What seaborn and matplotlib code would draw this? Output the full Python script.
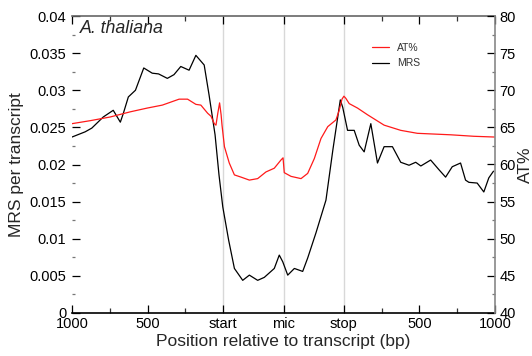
import matplotlib
matplotlib.use("Agg")
import matplotlib.pyplot as plt
import seaborn as sns
import pandas as pd

sns.set_theme(style="ticks")
plt.rcParams['font.family'] = ['Liberation Sans', 'DejaVu Sans']

# Metagene coordinate: 0-1000 = 1 kb upstream, 1000-1800 = scaled transcript body
# (start -> mic -> stop), 1800-2800 = 1 kb downstream
mrs_pos = [0, 87, 131, 207, 273, 320, 340, 373, 420, 475, 531, 573, 631, 675, 720,
           775, 820, 875, 907, 947, 973, 998, 1037, 1075, 1130, 1174, 1229, 1273,
           1339, 1372, 1395, 1428, 1472, 1527, 1560, 1615, 1681, 1727, 1776, 1792,
           1824, 1868, 1901, 1934, 1978, 2022, 2066, 2121, 2176, 2231, 2275, 2309,
           2374, 2429, 2473, 2517, 2572, 2605, 2627, 2682, 2726, 2759, 2790]
mrs_val = [0.0237, 0.0244, 0.0249, 0.0264, 0.0273, 0.0257, 0.0269, 0.0291, 0.0300,
           0.0330, 0.0323, 0.0322, 0.0316, 0.0321, 0.0332, 0.0327, 0.0347, 0.0334,
           0.0294, 0.0240, 0.0186, 0.0143, 0.0098, 0.0060, 0.0044, 0.0051, 0.0044,
           0.0048, 0.0060, 0.0078, 0.0069, 0.0051, 0.0060, 0.0056, 0.0074, 0.0108,
           0.0152, 0.0220, 0.0287, 0.0277, 0.0246, 0.0246, 0.0226, 0.0217, 0.0255,
           0.0202, 0.0224, 0.0224, 0.0203, 0.0199, 0.0203, 0.0198, 0.0206, 0.0193,
           0.0183, 0.0197, 0.0202, 0.0179, 0.0176, 0.0175, 0.0163, 0.0182, 0.0191]

at_pos = [0, 120, 253, 387, 498, 598, 709, 765, 820, 853, 898, 920, 942, 953, 965,
          977, 987, 993, 1009, 1041, 1075, 1119, 1174, 1229, 1284, 1339, 1383, 1397,
          1405, 1450, 1516, 1560, 1604, 1648, 1693, 1747, 1769, 1787, 1800, 1813,
          1835, 1890, 1956, 2066, 2176, 2286, 2507, 2660, 2796]
at_val = [65.5, 65.9, 66.4, 67.1, 67.6, 68.0, 68.8, 68.8, 68.1, 68.0, 66.9, 66.5,
          65.5, 65.3, 66.9, 68.3, 66.7, 65.3, 62.4, 60.2, 58.6, 58.3, 57.9, 58.1,
          59.0, 59.5, 60.6, 60.9, 58.9, 58.4, 58.1, 58.8, 60.8, 63.5, 65.1, 66.0,
          67.3, 68.8, 69.2, 68.9, 68.2, 67.6, 66.7, 65.3, 64.6, 64.2, 64.0, 63.8, 63.7]

x_ticks = [0, 500, 1000, 1400, 1800, 2300, 2800]
x_labels = ["1000", "500", "start", "mic", "stop", "500", "1000"]
x_minor = [250, 750, 2050, 2550]
landmarks = [1000, 1400, 1800]

left_ticks = [0, 0.005, 0.01, 0.015, 0.02, 0.025, 0.03, 0.035, 0.04]
left_labels = ["0", "0.005", "0.01", "0.015", "0.02", "0.025", "0.03", "0.035", "0.04"]
right_ticks = [40, 45, 50, 55, 60, 65, 70, 75, 80]
right_labels = ["40", "45", "50", "55", "60", "65", "70", "75", "80"]

mrs = pd.DataFrame({"pos": mrs_pos, "MRS": mrs_val})
at = pd.DataFrame({"pos": at_pos, "AT": at_val})

fig = plt.figure(figsize=(5.32, 3.56), dpi=100)
ax = fig.add_axes([72 / 532, 1 - 313 / 356, 423 / 532, 297 / 356])
ax2 = ax.twinx()

for x in landmarks:
    ax.axvline(x, color="#d8d8d8", lw=1.0, zorder=0)

sns.lineplot(data=mrs, x="pos", y="MRS", ax=ax, color="black", lw=0.9, legend=False)
sns.lineplot(data=at, x="pos", y="AT", ax=ax2, color="#ff1a1a", lw=0.9, legend=False)

ax.set_xlim(0, 2800)
ax.set_ylim(0, 0.04)
ax2.set_ylim(40, 80)

tick_fs = 10.5
ax.set_xticks(x_ticks)
ax.set_xticklabels(x_labels, fontsize=tick_fs)
ax.set_xticks(x_minor, minor=True)
ax.set_yticks(left_ticks)
ax.set_yticklabels(left_labels, fontsize=tick_fs)
ax.set_yticks([v + 0.0025 for v in left_ticks[:-1]], minor=True)
ax2.set_yticks(right_ticks)
ax2.set_yticklabels(right_labels, fontsize=tick_fs)
ax2.set_yticks([v + 2.5 for v in right_ticks[:-1]], minor=True)

ax.xaxis.set_ticks_position("both")
ax.tick_params(axis="x", which="major", direction="in", length=6, width=0.9,
               pad=3, colors="black", top=True, bottom=True)
ax.tick_params(axis="x", which="minor", direction="in", length=3.5, width=0.9,
               top=True, bottom=True, colors="#333333")
ax.tick_params(axis="y", which="major", direction="in", length=5.5, width=0.9,
               pad=4, colors="black", left=True, right=False)
ax.tick_params(axis="y", which="minor", direction="in", length=2.5, width=0.9,
               left=True, right=False, colors="#777777")
ax2.tick_params(axis="y", which="major", direction="in", length=5.5, width=0.9,
                pad=3, colors="black", right=True, left=False)
ax2.tick_params(axis="y", which="minor", direction="in", length=2.5, width=0.9,
                right=True, left=False, colors="#777777")

for side in ["left", "right", "top", "bottom"]:
    ax.spines[side].set_visible(side in ("top", "bottom"))
    ax2.spines[side].set_visible(side == "right")
ax.spines["bottom"].set_color("black")
ax.spines["bottom"].set_linewidth(1.2)
ax.spines["top"].set_color("#666666")
ax.spines["top"].set_linewidth(1.2)
ax2.spines["right"].set_color("#888888")
ax2.spines["right"].set_linewidth(1.2)

ax.set_xlabel("Position relative to transcript (bp)", fontsize=12.5, labelpad=2)
ax.set_ylabel("MRS per transcript", fontsize=12.5, labelpad=4)
ax2.set_ylabel("AT%", fontsize=12.5, labelpad=2)

ax.text(0.019, 0.985, "A. thaliana", transform=ax.transAxes, style="italic",
        fontsize=12.8, va="top", ha="left")

h_at = plt.Line2D([], [], color="#ff1a1a", lw=0.9)
h_mrs = plt.Line2D([], [], color="black", lw=0.9)
ax2.legend([h_at, h_mrs], ["AT%", "MRS"], loc="upper left",
           bbox_to_anchor=(0.709, 0.91), frameon=False, fontsize=7.5,
           handlelength=1.65, handletextpad=0.75, labelspacing=0.55,
           borderpad=0, borderaxespad=0, labelcolor="#333333")

fig.savefig("out.png", dpi=100)
